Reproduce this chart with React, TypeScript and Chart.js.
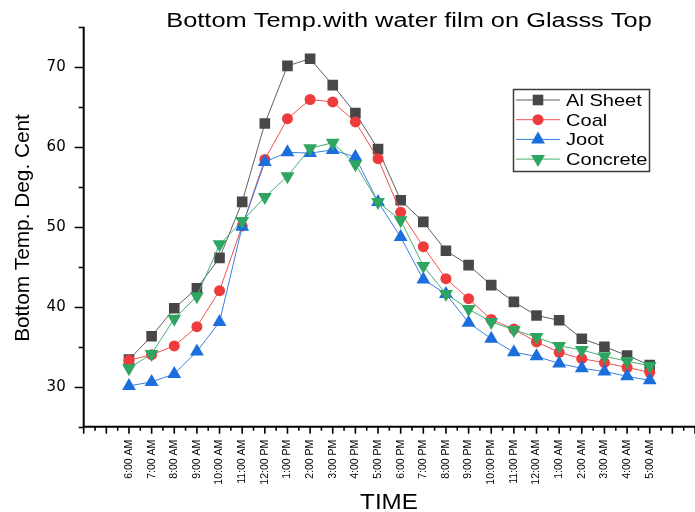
import React, { useEffect, useRef } from 'react';
import { Chart, registerables } from 'chart.js';

Chart.register(...registerables);

const timeLabels = [
  '6:00 AM', '7:00 AM', '8:00 AM', '9:00 AM', '10:00 AM', '11:00 AM',
  '12:00 PM', '1:00 PM', '2:00 PM', '3:00 PM', '4:00 PM', '5:00 PM',
  '6:00 PM', '7:00 PM', '8:00 PM', '9:00 PM', '10:00 PM', '11:00 PM',
  '12:00 AM', '1:00 AM', '2:00 AM', '3:00 AM', '4:00 AM', '5:00 AM',
];

const alSheet = [33.4, 36.3, 39.8, 42.3, 46.1, 53.1, 62.9, 70.1, 71.0, 67.7, 64.2, 59.7, 53.3, 50.6, 47.0, 45.2, 42.7, 40.6, 38.9, 38.3, 36.0, 35.0, 33.9, 32.7];
const coal = [33.3, 34.0, 35.1, 37.5, 42.0, 50.1, 58.4, 63.5, 65.9, 65.6, 63.1, 58.5, 51.8, 47.5, 43.5, 41.0, 38.4, 37.2, 35.6, 34.3, 33.5, 33.0, 32.4, 31.8];
const joot = [30.1, 30.6, 31.6, 34.4, 38.1, 50.0, 58.1, 59.3, 59.2, 59.6, 58.7, 53.1, 48.7, 43.4, 41.6, 38.0, 36.0, 34.3, 33.8, 32.9, 32.3, 31.9, 31.3, 30.8];
const concrete = [32.3, 34.1, 38.5, 41.3, 47.8, 50.7, 53.7, 56.3, 59.8, 60.5, 57.8, 53.1, 50.8, 45.1, 41.6, 39.7, 38.1, 37.1, 36.2, 35.1, 34.6, 33.8, 33.2, 32.6];

const seriesNames = ['Al Sheet', 'Coal', 'Joot', 'Concrete'];
const yLabelValues = [30, 40, 50, 60, 70];

const chartTitle = 'Bottom Temp.with water film on Glasss Top';
const yTitle = 'Bottom Temp. Deg. Cent';
const xTitle = 'TIME';

const FONT = "Arial, 'Liberation Sans', sans-serif";

const styles = [
  { line: '#5e5e5e', fill: '#474747', shape: 'rect' },
  { line: '#f05050', fill: '#ee3b3b', shape: 'circle' },
  { line: '#3a80e0', fill: '#1a6fdc', shape: 'tri' },
  { line: '#45b070', fill: '#2fa562', shape: 'triDown' },
];

function stretchText(
  ctx: CanvasRenderingContext2D, text: string, x: number, y: number,
  font: string, sx: number, align: CanvasTextAlign, baseline: CanvasTextBaseline, rot = 0,
) {
  ctx.save();
  ctx.font = font;
  ctx.fillStyle = '#000';
  ctx.textAlign = align;
  ctx.textBaseline = baseline;
  ctx.translate(x, y);
  if (rot) ctx.rotate(rot);
  ctx.scale(sx, 1);
  ctx.fillText(text, 0, 0);
  ctx.restore();
}

function drawMarker(ctx: CanvasRenderingContext2D, shape: string, x: number, y: number, color: string) {
  ctx.save();
  ctx.fillStyle = color;
  ctx.beginPath();
  if (shape === 'rect') {
    ctx.rect(x - 5.3, y - 5.3, 10.6, 10.6);
  } else if (shape === 'circle') {
    ctx.arc(x, y, 5.5, 0, Math.PI * 2);
  } else if (shape === 'tri') {
    const r = 8;
    ctx.moveTo(x, y - r);
    ctx.lineTo(x + r * 0.866, y + r / 2);
    ctx.lineTo(x - r * 0.866, y + r / 2);
    ctx.closePath();
  } else {
    const r = 8;
    ctx.moveTo(x, y + r);
    ctx.lineTo(x + r * 0.866, y - r / 2);
    ctx.lineTo(x - r * 0.866, y - r / 2);
    ctx.closePath();
  }
  ctx.fill();
  ctx.restore();
}

const decorPlugin = {
  id: 'decor',
  afterDraw(chart: any) {
    const ctx: CanvasRenderingContext2D = chart.ctx;
    const xs = chart.scales.x;
    const ys = chart.scales.y;
    const { left, right, top, bottom } = chart.chartArea;
    ctx.save();
    ctx.strokeStyle = '#000';
    ctx.lineWidth = 2;
    ctx.beginPath();
    ctx.moveTo(left, top);
    ctx.lineTo(left, bottom + 1);
    ctx.moveTo(left - 1, bottom);
    ctx.lineTo(right, bottom);
    ctx.stroke();
    ctx.lineWidth = 1.6;
    ctx.beginPath();
    for (let v = 25; v <= 75; v += 5) {
      const py = Math.round(ys.getPixelForValue(v)) + 0.5;
      const len = v % 10 === 0 ? 9 : 5;
      ctx.moveTo(left - len, py);
      ctx.lineTo(left, py);
    }
    for (let v = -2; v <= 25; v += 0.5) {
      const px = xs.getPixelForValue(v);
      const len = Number.isInteger(v) ? 7 : 4;
      ctx.moveTo(px, bottom);
      ctx.lineTo(px, bottom + len);
    }
    ctx.stroke();
    ctx.restore();

    stretchText(ctx, chartTitle, 409, 27, `20px ${FONT}`, 1.27, 'center', 'alphabetic');
    stretchText(ctx, yTitle, 29, 228, `20px ${FONT}`, 1.04, 'center', 'alphabetic', -Math.PI / 2);
    stretchText(ctx, xTitle, 389, 509, `22px ${FONT}`, 1.1, 'center', 'alphabetic');

    ctx.save();
    ctx.strokeStyle = '#3a3a3a';
    ctx.lineWidth = 1.5;
    ctx.strokeRect(513.5, 89.5, 136, 82);
    ctx.restore();
    seriesNames.forEach((name, i) => {
      const ly = 100 + i * 19.7;
      const st = styles[i];
      ctx.save();
      ctx.strokeStyle = st.line;
      ctx.lineWidth = 1;
      ctx.beginPath();
      ctx.moveTo(516, ly);
      ctx.lineTo(560, ly);
      ctx.stroke();
      ctx.restore();
      drawMarker(ctx, st.shape, 538, ly, st.fill);
      stretchText(ctx, name, 566, ly + 6, `17px ${FONT}`, 1.18, 'left', 'alphabetic');
    });
  },
};

const allSeries = [alSheet, coal, joot, concrete];

export default function App() {
  const ref = useRef<HTMLCanvasElement | null>(null);

  useEffect(() => {
    if (!ref.current) return;
    const datasets = allSeries.map((vals, i) => {
      const st = styles[i];
      return {
        label: seriesNames[i],
        data: vals.map((v, k) => ({ x: k, y: v })),
        borderColor: st.line,
        borderWidth: 1,
        backgroundColor: st.fill,
        pointBackgroundColor: st.fill,
        pointBorderColor: st.fill,
        pointBorderWidth: 0,
        pointStyle: st.shape === 'rect' ? 'rect' : st.shape === 'circle' ? 'circle' : 'triangle',
        pointRotation: st.shape === 'triDown' ? 180 : 0,
        pointRadius: st.shape === 'rect' ? 7.5 : st.shape === 'circle' ? 5.5 : 8,
        tension: 0,
        fill: false,
        order: 4 - i,
      };
    });

    const chart = new Chart(ref.current, {
      type: 'line',
      data: { datasets },
      plugins: [decorPlugin],
      options: {
        animation: false,
        responsive: false,
        maintainAspectRatio: false,
        layout: { autoPadding: false, padding: { top: 26.7, left: 0, right: 0, bottom: 0 } },
        plugins: {
          legend: { display: false },
          title: { display: false },
          tooltip: { enabled: false },
        },
        scales: {
          x: {
            type: 'linear',
            min: -2,
            max: 25,
            grid: { display: false, drawTicks: false },
            border: { display: false },
            ticks: {
              stepSize: 1,
              autoSkip: false,
              maxRotation: 90,
              minRotation: 90,
              padding: 13,
              color: '#000',
              font: { family: FONT, size: 10.5 },
              callback: (v: any) => {
                const n = Number(v);
                return Number.isInteger(n) && n >= 0 && n < timeLabels.length ? timeLabels[n] : '';
              },
            },
            afterFit: (s: any) => {
              s.height = 85.3;
              s.paddingLeft = 0;
              s.paddingRight = 0;
            },
          },
          y: {
            type: 'linear',
            min: 25,
            max: 75,
            grid: { display: false, drawTicks: false },
            border: { display: false },
            ticks: {
              stepSize: 5,
              padding: 18,
              color: '#000',
              font: { family: "'DejaVu Sans', sans-serif", size: 15 },
              callback: (v: any) => (yLabelValues.includes(Number(v)) ? String(v) : ''),
            },
            afterFit: (s: any) => {
              s.width = 83.7;
              s.paddingTop = 0;
              s.paddingBottom = 0;
            },
          },
        },
      },
    });
    return () => chart.destroy();
  }, []);

  return (
    <div style={{ position: 'fixed', left: 0, top: 0, width: 695, height: 512, background: '#fff' }}>
      <canvas ref={ref} width={695} height={512} />
    </div>
  );
}
